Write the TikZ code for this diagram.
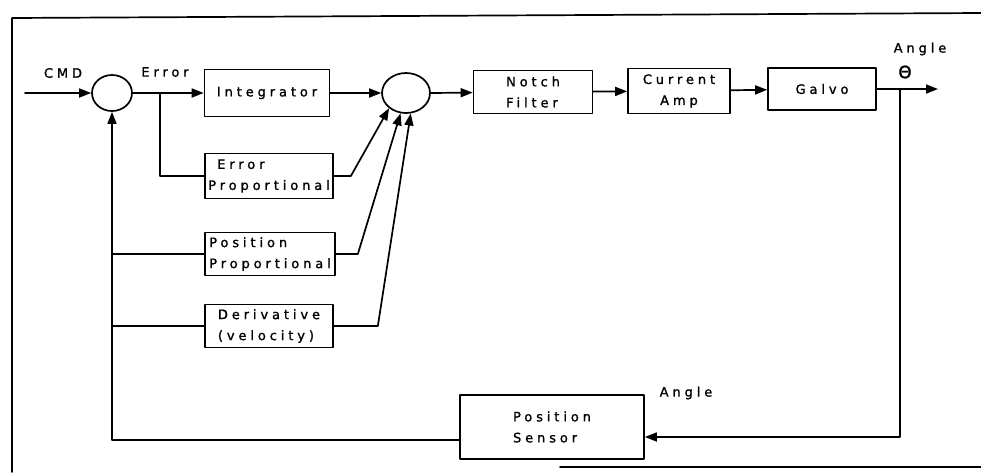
\documentclass[tikz,border=0pt]{standalone}
\usepackage{fontspec}
\setmainfont{DejaVu Sans}[LetterSpace=30, FakeBold=1.2]
\usetikzlibrary{shapes.geometric,arrows.meta}
\begin{document}
\begin{tikzpicture}[x=1pt, y=-1pt, font=\fontsize{13}{21}\selectfont, line join=round, line cap=round,
	>={Triangle[length=12pt,width=9pt]}, line width=1.7pt,
	block/.style={draw, inner sep=2pt, align=left},
	junction/.style={draw, ellipse, inner sep=0pt}]
	
	\useasboundingbox (0,0) rectangle (981,472);
	
	% frame
	\draw (12,472) -- (12,18) -- (981,13);
	\draw (560,467) -- (981,467);
	
	\coordinate (cmd) at (25,93);
	\coordinate (errtap) at (160,93);
	\coordinate (tap) at (900,89);
	\coordinate (out) at (938,89);
	
	\node[junction, minimum width=40pt, minimum height=36pt] (sumA) at (112,93) {};
	\node[junction, minimum width=48pt, minimum height=40pt] (sumB) at (406,93) {};
	
	\node[block, minimum width=125pt, minimum height=47pt, align=center] (integ) at (267,93) {Integrator};
	\node[block, minimum width=128pt, minimum height=45pt] (errp) at (269,176) {\hspace*{9pt}Error\\Proportional};
	\node[block, minimum width=130pt, minimum height=43pt] (posp) at (270,254) {Position\\Proportional};
	\node[block, minimum width=128pt, minimum height=43pt] (deriv) at (269,326) {Derivative\\(velocity)};
	\node[block, minimum width=119pt, minimum height=43pt] (notch) at (533,92) {Notch\\Filter};
	\node[block, minimum width=102pt, minimum height=45pt, align=center] (amp) at (679,91) {Current\\Amp};
	\node[block, minimum width=108pt, minimum height=42pt] (galvo) at (822,89) {Galvo};
	\node[block, minimum width=184pt, minimum height=64pt] (sensor) at (552,427) {Position\\Sensor};
	
	% labels
	\node (cmdlabel) at (63,73) {CMD};
	\node (errlabel) at (165,72) {Error};
	\node (anglabel) at (920,49) {Angle};
	\node[font=\fontsize{17}{17}\selectfont] (theta) at (905,72) {Θ};
	\node (senslabel) at (686,393) {Angle};
	
	% forward path
	\draw[->] (cmd) -- (sumA.west);
	\draw[->] (sumA.east) -- (integ.west);
	\draw (errtap) |- (errp.west);
	\draw[->] (integ.east) -- (sumB.west);
	\draw[->] (errp.east) -- ++(17,0) -- (sumB.222);
	\draw[->] (posp.east) -- ++(22,0) -- (sumB.255);
	\draw[->] (deriv.east) -- ++(44,0) -- (sumB.283);
	\draw[->] (sumB.east) -- (notch);
	\draw[->] (notch) -- (amp);
	\draw[->] (amp) -- (galvo);
	\draw[->] (galvo.east) -- (out);
	
	% feedback
	\draw[->] (tap) |- ([yshift=-10pt]sensor.east);
	\draw[->] ([yshift=-13pt]sensor.west) -| (sumA.south);
	\draw (posp.west) -- (posp.west -| sumA.south);
	\draw (deriv.west) -- (deriv.west -| sumA.south);
\end{tikzpicture}
\end{document}
